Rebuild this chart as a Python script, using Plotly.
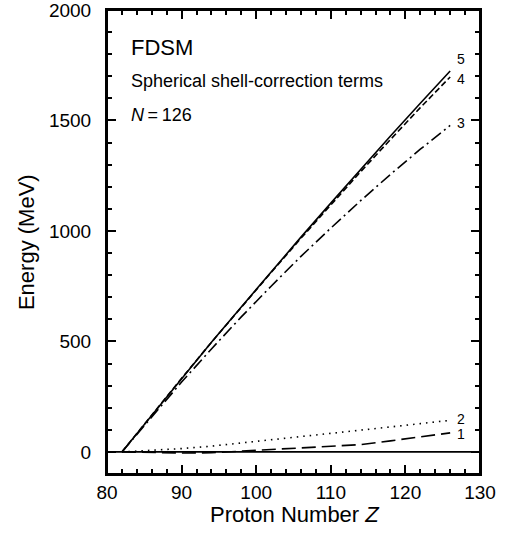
import plotly.graph_objects as go

Z = [82, 86, 90, 94, 98, 102, 106, 110, 114, 118, 122, 126]
E1 = [0, -3, -5, -4, 2, 11, 18, 25, 33, 50, 67, 86]
E2 = [0, 6, 15, 26, 40, 54, 69, 84, 99, 113, 128, 143]
E3 = [0, 160, 316, 466, 611, 750, 885, 1013, 1137, 1256, 1370, 1478]
E4 = [0, 168, 333, 496, 655, 812, 967, 1118, 1268, 1414, 1558, 1697]
E5 = [0, 167, 332, 496, 656, 815, 972, 1126, 1279, 1430, 1578, 1724]
curve_labels = ["1", "2", "3", "4", "5"]
label_y = [83, 147, 1489, 1690, 1778]

X_RANGE = [80, 130]
Y_RANGE = [-100, 2000]

FONT = "Liberation Sans"
W, H = 513, 539
M = dict(l=107, r=33, t=10, b=65)

fig = go.Figure()

series = [(E1, "14px,6px"), (E2, "1.5px,5px"), (E3, "12px,4px,2px,4px"),
          (E4, "6px,3px"), (E5, "solid")]
for vals, dash in series:
    fig.add_trace(go.Scatter(x=Z, y=vals, mode="lines",
                             line=dict(color="black", width=1.6, dash=dash),
                             showlegend=False, hoverinfo="skip"))

# zero line
fig.add_shape(type="line", xref="x", yref="y", x0=X_RANGE[0], x1=X_RANGE[1], y0=0, y1=0,
              line=dict(color="black", width=1.6))

# frame
fig.add_shape(type="rect", xref="paper", yref="paper", x0=0, x1=1, y0=0, y1=1,
              line=dict(color="black", width=2), fillcolor="rgba(0,0,0,0)", layer="above")

for lab, yv in zip(curve_labels, label_y):
    fig.add_annotation(x=127.45, y=yv, text=lab, showarrow=False,
                       font=dict(size=14, color="black", family=FONT))

fig.add_annotation(x=0.06, y=0.919, xref="paper", yref="paper", text="FDSM",
                   showarrow=False, xanchor="left", yanchor="middle",
                   font=dict(size=22, color="black", family=FONT))
fig.add_annotation(x=0.06, y=0.848, xref="paper", yref="paper",
                   text="Spherical shell-correction terms",
                   showarrow=False, xanchor="left", yanchor="middle",
                   font=dict(size=18, color="black", family=FONT))
fig.add_annotation(x=0.06, y=0.774, xref="paper", yref="paper",
                   text="<i>N</i>\u2009=\u2009126",
                   showarrow=False, xanchor="left", yanchor="middle",
                   font=dict(size=18, color="black", family=FONT))

# axis titles
fig.add_annotation(x=0.505, y=-0.088, xref="paper", yref="paper",
                   text="Proton Number <i>Z</i>", showarrow=False,
                   xanchor="center", yanchor="middle",
                   font=dict(size=22, color="black", family=FONT))
fig.add_annotation(x=-0.217, y=0.5, xref="paper", yref="paper",
                   text="Energy (MeV)", showarrow=False, textangle=-90,
                   xanchor="center", yanchor="middle",
                   font=dict(size=22, color="black", family=FONT))

tickfont = dict(size=19, color="black", family=FONT)
axis_common = dict(showline=True, linecolor="black", linewidth=2, mirror="ticks",
                   ticks="inside", ticklen=9, tickwidth=2, tickcolor="black",
                   showgrid=False, zeroline=False, automargin=False,
                   ticklabeloverflow="allow", tickfont=tickfont)

fig.update_layout(
    width=W, height=H, margin=M,
    plot_bgcolor="white", paper_bgcolor="white",
    xaxis=dict(range=X_RANGE, tick0=80, dtick=10,
               minor=dict(tick0=80, dtick=2, ticks="inside", ticklen=5,
                          tickwidth=2, tickcolor="black", showgrid=False),
               **axis_common),
    yaxis=dict(range=Y_RANGE, tick0=0, dtick=500, ticklabelstandoff=10,
               minor=dict(tick0=0, dtick=100, ticks="inside", ticklen=5,
                          tickwidth=2, tickcolor="black", showgrid=False),
               **axis_common),
)

fig.write_html("out.html")
